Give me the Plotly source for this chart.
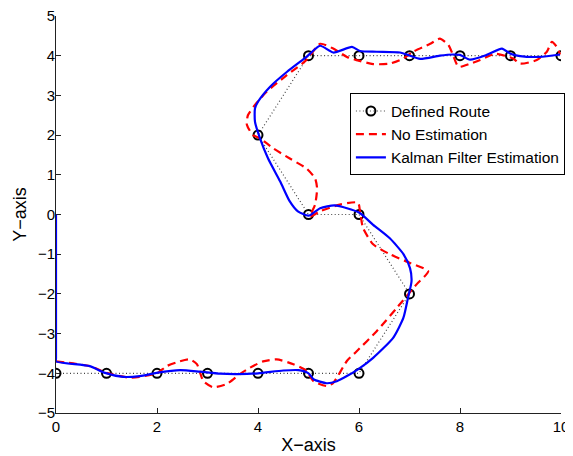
import plotly.graph_objects as go

route_x = [0, 1, 2, 3, 4, 5, 6, 7, 6, 5, 4, 5, 6, 7, 8, 9, 10]
route_y = [-4, -4, -4, -4, -4, -4, -4, -2, 0, 0, 2, 4, 4, 4, 4, 4, 4]

noest_x = [0, 0.67, 1, 1.47, 2, 2.19, 2.45, 2.65, 2.79, 2.92, 3.11, 3.38, 3.64, 3.84, 4.1, 4.37,
           4.7, 4.96, 5.1, 5.36, 5.49, 5.76, 5.95, 6.35, 6.75, 7.14, 7.37, 7.01, 6.61, 6.28,
           6.08, 6.02, 5.98, 5.62, 5.23, 5.03, 5.13, 5.17, 5.13, 4.96, 4.63, 4.3, 4.04, 3.9, 3.78,
           3.8, 3.94, 4.17, 4.57, 4.96, 5.23, 5.49, 5.76, 5.95, 6.28, 6.61, 6.88, 7.07, 7.41,
           7.6, 7.77, 7.86, 7.97, 8.2, 8.4, 8.7, 9.05, 9.19, 9.52, 9.72, 9.82, 9.94, 9.98]
noest_y = [-3.7, -3.82, -3.99, -4.11, -4.0, -3.82, -3.7, -3.65, -3.77, -4.2, -4.35, -4.27, -4.02,
           -3.86, -3.7, -3.65, -3.77, -3.94, -4.2, -4.32, -4.24, -3.69, -3.45, -2.94, -2.35,
           -1.76, -1.43, -1.22, -1.0, -0.75, -0.34, 0.08, 0.3, 0.25, 0.08, -0.05, 0.25, 0.66, 0.91,
           1.16, 1.41, 1.67, 1.92, 2.0, 2.26, 2.5, 2.76, 3.09, 3.51, 3.89, 4.3, 4.18, 3.97,
           3.89, 3.79, 3.8, 3.93, 4.1, 4.3, 4.43, 4.27, 4.02, 3.72, 3.8, 3.89, 4.05, 3.93, 3.8,
           3.89, 4.1, 4.35, 4.18, 4.03]

kalman_x = [0, 0, 0, 0.67, 0.97, 1.33, 1.66, 1.99, 2.46, 2.85, 3.25, 3.6, 4.0, 4.5, 4.8, 5.0, 5.1,
            5.36, 5.56, 5.76, 5.98, 6.28, 6.68, 6.88, 6.97, 7.04, 7.01, 6.88, 6.61, 6.28, 6.0,
            5.52, 5.23, 5.0, 4.79, 4.62, 4.44, 4.2, 4.04, 3.94, 3.94, 4.0, 4.24, 4.57, 4.96,
            5.23, 5.49, 5.86, 6.02, 6.35, 6.81, 7.01, 7.21, 7.6, 7.86, 8.0, 8.2, 8.53, 8.83,
            9.0, 9.19, 9.58, 9.98]
kalman_y = [0, -3.62, -3.7, -3.82, -3.99, -4.09, -4.07, -3.99, -3.92, -3.96, -4.01, -4.02, -4.0,
            -3.93, -3.92, -4.0, -4.15, -4.25, -4.2, -4.07, -3.9, -3.61, -3.1, -2.6, -2.1, -1.68,
            -1.35, -1.0, -0.6, -0.26, 0.05, 0.23, 0.16, -0.03, 0.08, 0.35, 0.83, 1.41, 1.92,
            2.34, 2.67, 2.84, 3.22, 3.59, 3.97, 4.25, 4.08, 4.22, 4.12, 4.1, 4.08, 4.0, 3.92,
            4.0, 4.03, 4.02, 3.9, 4.02, 4.18, 4.05, 3.99, 3.97, 4.03]

x_ticks = [0, 2, 4, 6, 8, 10]
y_ticks = [-5, -4, -3, -2, -1, 0, 1, 2, 3, 4, 5]

fig = go.Figure()
fig.add_trace(go.Scatter(
    x=route_x, y=route_y, mode="lines+markers", name="Defined Route",
    line=dict(color="#444444", width=1.2, dash="1px,2.5px"),
    marker=dict(symbol="circle-open", size=9, color="black", line=dict(width=2, color="black")),
))
fig.add_trace(go.Scatter(
    x=noest_x, y=noest_y, mode="lines", name="No Estimation",
    line=dict(color="#ff0000", width=2.2, dash="8px,5px", shape="spline", smoothing=0.6),
))
fig.add_trace(go.Scatter(
    x=kalman_x, y=kalman_y, mode="lines", name="Kalman Filter Estimation",
    line=dict(color="#0000ff", width=2.2, shape="spline", smoothing=0.6),
))

font = "Liberation Sans, Arial, Helvetica, sans-serif"
fig.update_layout(
    width=565, height=448,
    margin=dict(l=48, r=12, t=8, b=43, autoexpand=False),
    paper_bgcolor="white", plot_bgcolor="white",
    font=dict(family=font, size=15, color="black"),
    showlegend=True,
    legend=dict(
        x=0.582, y=0.805, xanchor="left", yanchor="top",
        bgcolor="white", bordercolor="black", borderwidth=1,
        font=dict(size=15.5), tracegroupgap=0, itemwidth=30,
    ),
    xaxis=dict(
        range=[0, 10], tickvals=x_ticks, showgrid=False, zeroline=False,
        showline=True, linecolor="#222222", linewidth=1, ticks="inside", ticklen=5,
        tickcolor="#222222", title=dict(text="X\u2212axis", standoff=4), layer="below traces",
        ticklabeloverflow="allow",
    ),
    yaxis=dict(
        range=[-5, 5], tickvals=y_ticks, showgrid=False, zeroline=False,
        showline=True, linecolor="#222222", linewidth=1, ticks="inside", ticklen=5,
        tickcolor="#222222", title=dict(text="Y\u2212axis", standoff=6), layer="below traces",
        ticklabeloverflow="allow", ticklabelstandoff=-3,
    ),
)

fig.write_html("out.html")
